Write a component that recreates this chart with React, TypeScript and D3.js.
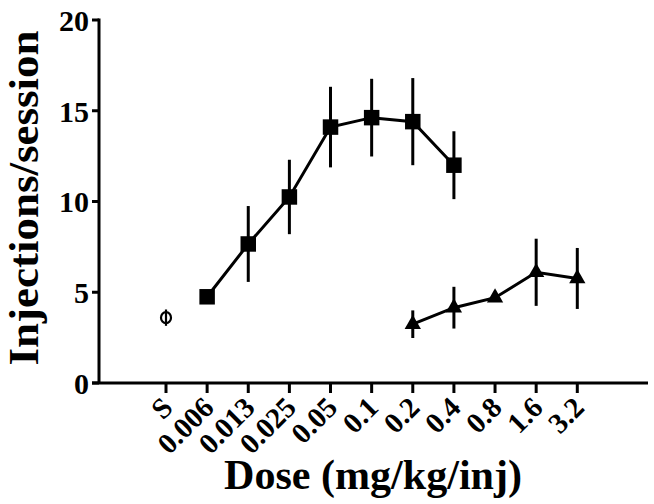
import React from "react";
import * as d3 from "d3";

const doseLabels = ["S", "0.006", "0.013", "0.025", "0.05", "0.1", "0.2", "0.4", "0.8", "1.6", "3.2"];
const yTicks = [0, 5, 10, 15, 20];

const salineDose = "S";
const salineMean = 3.6;
const salineErr = 0.45;

const squareDoses = ["0.006", "0.013", "0.025", "0.05", "0.1", "0.2", "0.4"];
const squareMean = [4.75, 7.66, 10.25, 14.1, 14.62, 14.4, 12.0];
const squareErr = [0.1, 2.09, 2.05, 2.22, 2.14, 2.4, 1.87];

const triDoses = ["0.2", "0.4", "0.8", "1.6", "3.2"];
const triMean = [3.24, 4.15, 4.7, 6.1, 5.76];
const triErr = [0.76, 1.15, 0.2, 1.85, 1.68];

const W = 654;
const H = 504;

export default function App() {
  const x = d3.scaleLinear().domain([0, 10]).range([166, 577.3]);
  const y = d3.scaleLinear().domain([0, 20]).range([383, 20]);
  const xi = (d: string) => x(doseLabels.indexOf(d));

  const line = d3
    .line<[number, number]>()
    .x((d) => d[0])
    .y((d) => d[1]);

  const sqPts: [number, number][] = squareDoses.map((d, i) => [xi(d), y(squareMean[i])]);
  const triPts: [number, number][] = triDoses.map((d, i) => [xi(d), y(triMean[i])]);

  const squarePath = d3.symbol(d3.symbolSquare, 240)()!;
  const triPath = d3.symbol(d3.symbolTriangle, 115)()!;

  const font = "'Liberation Serif', 'Times New Roman', serif";
  const axisLeft = 99;
  const axisBottom = y(0);

  return (
    <svg width={W} height={H} style={{ position: "absolute", left: 0, top: 0 }} fontFamily={font} fontWeight="bold">
      <rect width={W} height={H} fill="#fff" />
      {/* axes */}
      <line x1={axisLeft} x2={axisLeft} y1={y(20) - 1.5} y2={axisBottom} stroke="#000" strokeWidth={3} />
      <line x1={92} x2={648} y1={axisBottom} y2={axisBottom} stroke="#000" strokeWidth={3} />
      {yTicks.map((t) => (
        <g key={t}>
          <line x1={92} x2={axisLeft} y1={y(t)} y2={y(t)} stroke="#000" strokeWidth={3} />
          <text x={89} y={y(t)} dy="0.36em" textAnchor="end" fontSize={30}>
            {t}
          </text>
        </g>
      ))}
      {doseLabels.map((d) => (
        <g key={d}>
          <line x1={xi(d)} x2={xi(d)} y1={axisBottom} y2={axisBottom + 10} stroke="#000" strokeWidth={3} />
          <text
            transform={`translate(${xi(d) - 6},${axisBottom + 12}) rotate(-45)`}
            textAnchor="end"
            fontSize={29}
            dy="0.7em"
          >
            {d}
          </text>
        </g>
      ))}
      {/* axis titles */}
      <text transform={`translate(38,198) rotate(-90)`} textAnchor="middle" fontSize={43} textLength={335} lengthAdjust="spacingAndGlyphs">
        Injections/session
      </text>
      <text x={373} y={489} textAnchor="middle" fontSize={42} textLength={298} lengthAdjust="spacingAndGlyphs">
        Dose (mg/kg/inj)
      </text>

      {/* saline */}
      <line
        x1={xi(salineDose)}
        x2={xi(salineDose)}
        y1={y(salineMean + salineErr)}
        y2={y(salineMean - salineErr)}
        stroke="#000"
        strokeWidth={2.2}
      />
      <ellipse cx={xi(salineDose)} cy={y(salineMean)} rx={5} ry={5.5} fill="none" stroke="#000" strokeWidth={2.2} />

      {/* squares */}
      <path d={line(sqPts)!} fill="none" stroke="#000" strokeWidth={3} />
      {squareDoses.map((d, i) => (
        <line
          key={"se" + d}
          x1={xi(d)}
          x2={xi(d)}
          y1={y(squareMean[i] + squareErr[i])}
          y2={y(squareMean[i] - squareErr[i])}
          stroke="#000"
          strokeWidth={3}
        />
      ))}
      {sqPts.map((p, i) => (
        <path key={"s" + i} d={squarePath} transform={`translate(${p[0]},${p[1]})`} fill="#000" />
      ))}

      {/* triangles */}
      <path d={line(triPts)!} fill="none" stroke="#000" strokeWidth={3} />
      {triDoses.map((d, i) => (
        <line
          key={"te" + d}
          x1={xi(d)}
          x2={xi(d)}
          y1={y(triMean[i] + triErr[i])}
          y2={y(triMean[i] - triErr[i])}
          stroke="#000"
          strokeWidth={3}
        />
      ))}
      {triPts.map((p, i) => (
        <path key={"t" + i} d={triPath} transform={`translate(${p[0]},${p[1]})`} fill="#000" />
      ))}
    </svg>
  );
}
